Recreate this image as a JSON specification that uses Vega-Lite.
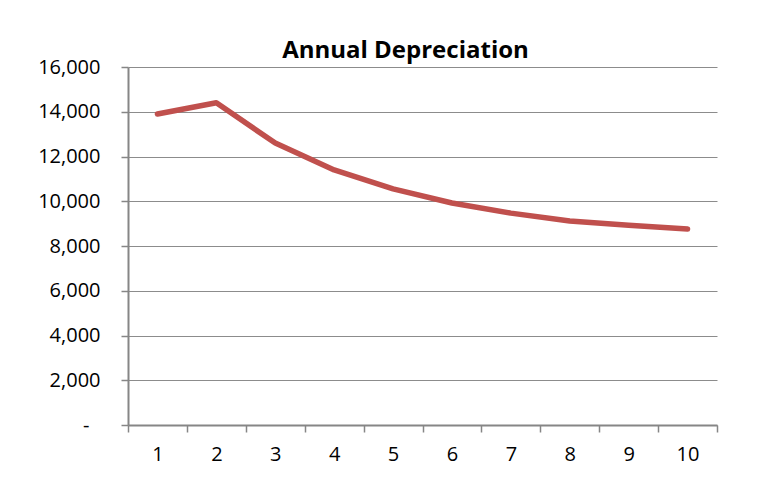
{
  "$schema": "https://vega.github.io/schema/vega-lite/v6.json",
  "autosize": {"type": "none"},
  "width": 589,
  "height": 358,
  "padding": {"left": 128, "top": 67, "right": 55, "bottom": 72},
  "background": "white",
  "title": {
    "text": "Annual Depreciation",
    "font": "Open Sans",
    "fontSize": 24,
    "fontWeight": "bold",
    "color": "#000000",
    "anchor": "middle",
    "dx": -17,
    "dy": 8,
    "offset": 2
  },
  "data": {
    "values": [
      {"year": 1, "dep": 13900},
      {"year": 2, "dep": 14400},
      {"year": 3, "dep": 12600},
      {"year": 4, "dep": 11400},
      {"year": 5, "dep": 10550},
      {"year": 6, "dep": 9920},
      {"year": 7, "dep": 9470},
      {"year": 8, "dep": 9120},
      {"year": 9, "dep": 8930},
      {"year": 10, "dep": 8760}
    ]
  },
  "mark": {"type": "line", "color": "#C0504D", "strokeWidth": 5.5, "strokeCap": "round", "strokeJoin": "round"},
  "encoding": {
    "x": {
      "field": "year",
      "type": "quantitative",
      "scale": {"domain": [0.5, 10.5], "nice": false, "zero": false},
      "axis": {
        "title": null,
        "values": [0.5, 1, 1.5, 2, 2.5, 3, 3.5, 4, 4.5, 5, 5.5, 6, 6.5, 7, 7.5, 8, 8.5, 9, 9.5, 10, 10.5],
        "format": ".0f",
        "labelExpr": "datum.value % 1 == 0 ? datum.label : ''",
        "tickOpacity": {"condition": {"test": "datum.value % 1 == 0", "value": 0}, "value": 1},
        "grid": false,
        "domainColor": "#868686",
        "domainWidth": 2,
        "tickColor": "#868686",
        "tickWidth": 1.5,
        "tickSize": 7,
        "labelFont": "Open Sans",
        "labelFontSize": 20,
        "labelColor": "#000000",
        "labelPadding": 12,
        "labelFlush": false,
        "labelOverlap": false
      }
    },
    "y": {
      "field": "dep",
      "type": "quantitative",
      "scale": {"domain": [0, 16000], "nice": false},
      "axis": {
        "title": null,
        "values": [0, 2000, 4000, 6000, 8000, 10000, 12000, 14000, 16000],
        "format": ",.0f",
        "labelExpr": "datum.value == 0 ? '-' : datum.label",
        "grid": true,
        "gridColor": "#8c8c8c",
        "gridWidth": 1,
        "domainColor": "#868686",
        "domainWidth": 2,
        "tickColor": "#868686",
        "tickWidth": 1.5,
        "tickSize": 7,
        "labelFont": "Open Sans",
        "labelFontSize": 20,
        "labelColor": "#000000",
        "labelPadding": {"condition": {"test": "datum.value == 0", "value": 32}, "value": 21},
        "labelOverlap": false
      }
    }
  },
  "config": {
    "view": {"stroke": null}
  }
}
